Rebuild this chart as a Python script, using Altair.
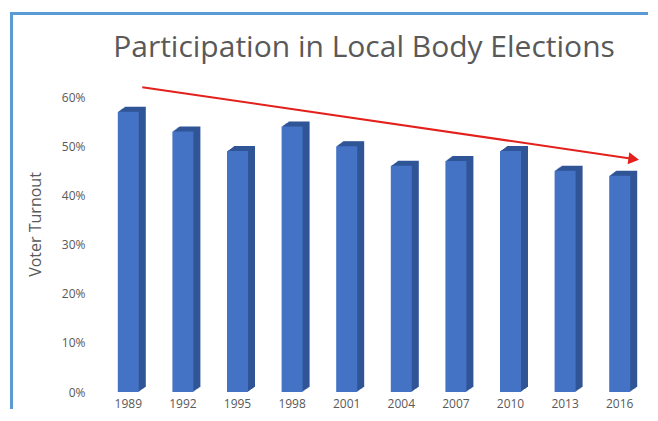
import altair as alt
import pandas as pd

years = ["1989", "1992", "1995", "1998", "2001", "2004", "2007", "2010", "2013", "2016"]
turnout = [0.57, 0.53, 0.49, 0.54, 0.50, 0.46, 0.47, 0.49, 0.45, 0.44]
y_ticks = [0.0, 0.1, 0.2, 0.3, 0.4, 0.5, 0.6]
title_text = ["Participation in Local Body Elections"]
y_title = "Voter Turnout"
arrow_years = ["1989", "2016"]
arrow_values = [0.620, 0.474]

df = pd.DataFrame({"year": years, "turnout": turnout})
arrow_df = pd.DataFrame({"year": arrow_years, "value": arrow_values})
title_df = pd.DataFrame({"t": title_text})
one = pd.DataFrame({"k": [0]})

W = 546
H = 295
GREY = "#595959"
FONT = "Open Sans"
FRONT = "#4472c4"
DARK = "#2f5597"
RED = "#e3201b"
BORDER = "#5b9bd5"

xscale = alt.Scale(domain=years, paddingInner=0, paddingOuter=0)
yscale = alt.Scale(domain=[0, 0.6], nice=False, zero=True)

xenc = alt.X(
    "year:N", sort=years, scale=xscale,
    axis=alt.Axis(labelAngle=0, labelPadding=6, domain=False, ticks=False,
                  labelColor=GREY, labelFont=FONT, labelFontSize=12, title=None),
)
yenc = alt.Y(
    "turnout:Q", scale=yscale,
    axis=alt.Axis(values=y_ticks, format=".0%", labelPadding=16, grid=False,
                  domain=False, ticks=False, labelColor=GREY, labelFont=FONT,
                  labelFontSize=12, title=y_title, titleColor=GREY, titleFont=FONT,
                  titleFontSize=16, titleFontWeight="normal", titleX=-66, titleY=127,
                  titleBaseline="middle"),
)

layers = []

# border lines (decoration)
layers.append(alt.Chart(one).mark_rule(color=BORDER, strokeWidth=3).encode(
    x=alt.value(-89.5), y=alt.value(-85), y2=alt.value(312)))
layers.append(alt.Chart(one).mark_rule(color=BORDER, strokeWidth=3).encode(
    x=alt.value(-91), x2=alt.value(547), y=alt.value(-83.5)))

# title
layers.append(alt.Chart(title_df).mark_text(
    font=FONT, fontSize=30, color=GREY, align="center", baseline="alphabetic"
).encode(text="t:N", x=alt.value(263), y=alt.value(-40)))

# depth of 3D bars
for k in range(1, 8):
    dy = -k * 0.72
    layers.append(alt.Chart(df).mark_bar(
        width=21, color=DARK, xOffset=k, x2Offset=k, yOffset=dy, y2Offset=dy
    ).encode(x=xenc, y=yenc))

# front faces
layers.append(alt.Chart(df).mark_bar(width=21, color=FRONT).encode(x=xenc, y=yenc))

# trend arrow
layers.append(alt.Chart(arrow_df).mark_line(color=RED, strokeWidth=2, xOffset=14).encode(
    x=alt.X("year:N", sort=years, scale=xscale),
    y=alt.Y("value:Q", scale=yscale)))
layers.append(alt.Chart(arrow_df.iloc[[1]]).mark_point(
    shape="triangle-right", filled=True, color=RED, opacity=1, size=150, angle=8, xOffset=14
).encode(
    x=alt.X("year:N", sort=years, scale=xscale),
    y=alt.Y("value:Q", scale=yscale)))

chart = alt.layer(*layers).properties(
    width=W, height=H,
    padding={"left": 0, "top": 2, "right": 0, "bottom": 0},
    background="white",
).configure_view(stroke=None)

chart.save("out.html", embed_options={"renderer": "svg", "actions": False})
